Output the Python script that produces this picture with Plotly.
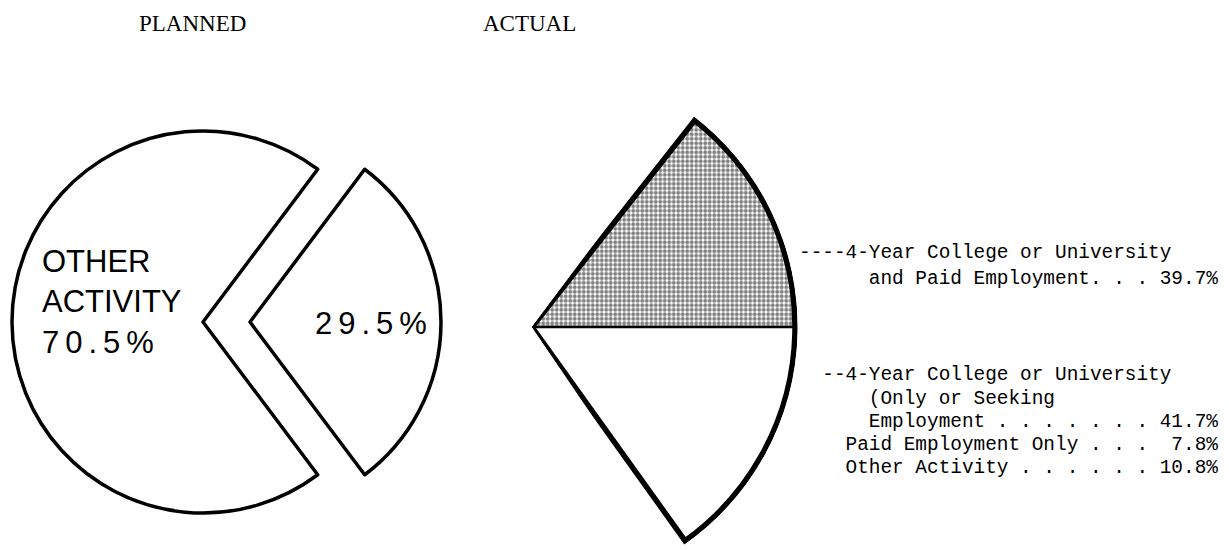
import math
import plotly.graph_objects as go

W, H = 1229, 550

# ---------------- data ----------------
panel_titles = ["PLANNED", "ACTUAL"]

planned_labels = ["Other Activity", "4-Year College or University and Paid Employment"]
planned_values = [70.5, 29.5]

actual_labels = [
    "4-Year College or University and Paid Employment",
    "4-Year College or University (Only or Seeking Employment",
    "Paid Employment Only",
    "Other Activity",
]
actual_values = [39.7, 41.7, 7.8, 10.8]

# ---------------- helpers (layout positions in pixels) ----------------
def px(x):
    return x / W


def py(y):
    return 1 - y / H


NB = "\u00a0"


def keep_spaces(s):
    return s.replace(" ", NB)


fig = go.Figure()

# ---------------- PLANNED pie (main slice + exploded slice) ----------------
L_CX, L_CY, L_R = 203, 322, 191
EXPLODE = 47
plan_order = [planned_values[1], planned_values[0]]
plan_rot = 90 - planned_values[1] / sum(planned_values) * 360 / 2
clear = "rgba(0,0,0,0)"

fig.add_trace(go.Pie(
    values=plan_order, labels=[planned_labels[1], planned_labels[0]],
    sort=False, direction="clockwise", rotation=plan_rot,
    marker=dict(colors=[clear, "white"], line=dict(color=[clear, "black"], width=[0, 3.5])),
    textinfo="none", hoverinfo="skip", showlegend=False,
    domain=dict(x=[px(L_CX - L_R), px(L_CX + L_R)], y=[py(L_CY + L_R), py(L_CY - L_R)]),
))
fig.add_trace(go.Pie(
    values=plan_order, labels=[planned_labels[1], planned_labels[0]],
    sort=False, direction="clockwise", rotation=plan_rot,
    marker=dict(colors=["white", clear], line=dict(color=["black", clear], width=[3.5, 0])),
    textinfo="none", hoverinfo="skip", showlegend=False,
    domain=dict(x=[px(L_CX + EXPLODE - L_R), px(L_CX + EXPLODE + L_R)],
                y=[py(L_CY + L_R), py(L_CY - L_R)]),
))

# ---------------- ACTUAL partial pie (barpolar sector) ----------------
R_CX, R_CY, R_R = 532, 327, 263
span_total = planned_values[1] / sum(planned_values) * 360
deg_per_unit = span_total / (actual_values[0] + actual_values[1])
w1 = actual_values[0] * deg_per_unit
w2 = actual_values[1] * deg_per_unit

RPAD = 1.01
APAD = 1.5
R_AX = R_R * RPAD
sec = [-w2 - APAD, w1 + APAD]
top_px = R_CY - R_AX * math.sin(math.radians(sec[1]))
bot_px = R_CY + R_AX * math.sin(math.radians(-sec[0]))

fig.add_trace(go.Barpolar(
    r=[1], theta=[w1 / 2], width=[w1], name=actual_labels[0],
    marker=dict(color="white",
                pattern=dict(shape=".", size=4.5, solidity=0.6, fgcolor="black", bgcolor="white"),
                line=dict(color="black", width=2.5)),
    hoverinfo="skip", showlegend=False, subplot="polar",
))
fig.add_trace(go.Barpolar(
    r=[1], theta=[-w2 / 2], width=[w2], name=actual_labels[1],
    marker=dict(color="white", line=dict(color="black", width=2.5)),
    hoverinfo="skip", showlegend=False, subplot="polar",
))
fig.add_trace(go.Barpolar(
    r=[1], theta=[(w1 - w2) / 2], width=[w1 + w2], name="outline",
    marker=dict(color=clear, line=dict(color="black", width=5.5)),
    hoverinfo="skip", showlegend=False, subplot="polar",
))

fig.update_layout(
    polar=dict(
        domain=dict(x=[px(R_CX), px(R_CX + R_AX)], y=[py(bot_px), py(top_px)]),
        sector=sec,
        bgcolor=clear,
        barmode="overlay",
        radialaxis=dict(visible=False, range=[0, RPAD], showgrid=False),
        angularaxis=dict(visible=False, rotation=0, direction="counterclockwise", showgrid=False),
    )
)

# ---------------- text ----------------
ann = []
serif = "Liberation Serif, Times New Roman, serif"
sans = "Liberation Sans, Arial, Helvetica, sans-serif"
mono = "Liberation Mono, Courier New, monospace"

ann.append(dict(x=px(192), y=py(23), text=panel_titles[0], showarrow=False,
                xanchor="center", yanchor="middle", font=dict(family=serif, size=23, color="black")))
ann.append(dict(x=px(529), y=py(23), text=panel_titles[1], showarrow=False,
                xanchor="center", yanchor="middle", font=dict(family=serif, size=23, color="black")))

ls = "letter-spacing:6px"
other_words = planned_labels[0].upper().split(" ")
ann.append(dict(
    x=px(40), y=py(302), xanchor="left", yanchor="middle", align="left", showarrow=False,
    text="<br>".join(other_words) + f"<br><span style='{ls}'>{planned_values[0]:.1f}%</span>",
    font=dict(family=sans, size=31, color="black"),
))
ann.append(dict(
    x=px(313), y=py(323), xanchor="left", yanchor="middle", showarrow=False,
    text=f"<span style='{ls}'>{planned_values[1]:.1f}%</span>",
    font=dict(family=sans, size=31, color="black"),
))

right_lines = [
    (253, "----4-Year College or University"),
    (279, f"      and Paid Employment. . . {actual_values[0]:.1f}%"),
    (375, "  --4-Year College or University"),
    (399, "      (Only or Seeking"),
    (422, f"      Employment . . . . . . . {actual_values[1]:.1f}%"),
    (445, f"    Paid Employment Only . . .  {actual_values[2]:.1f}%"),
    (468, f"    Other Activity . . . . . . {actual_values[3]:.1f}%"),
]
for yy, t in right_lines:
    ann.append(dict(x=px(797), y=py(yy), xanchor="left", yanchor="middle", showarrow=False,
                    text=keep_spaces(t), font=dict(family=mono, size=19.4, color="black")))

fig.update_layout(
    width=W, height=H,
    margin=dict(l=0, r=0, t=0, b=0),
    paper_bgcolor="white", plot_bgcolor="white",
    showlegend=False,
    annotations=ann,
)

fig.write_html(
    "out.html",
    config={"displayModeBar": False},
    post_script="document.body.style.margin='0';document.body.style.overflow='hidden';",
)
